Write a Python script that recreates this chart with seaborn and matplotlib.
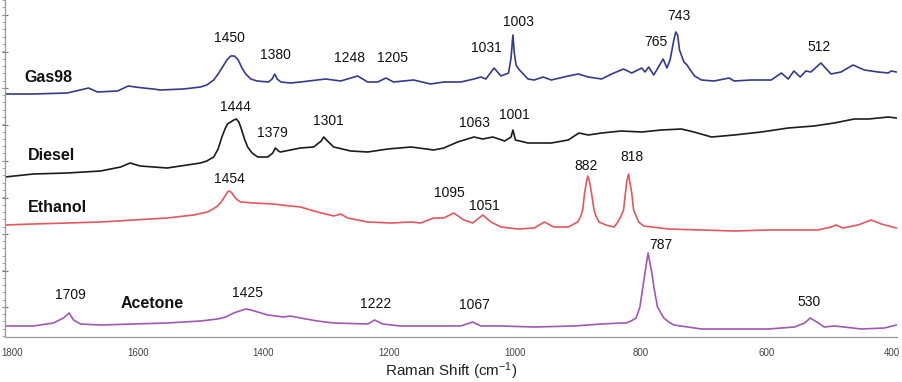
import pandas as pd
import numpy as np
import matplotlib
matplotlib.use("Agg")
import matplotlib.pyplot as plt
from matplotlib.ticker import MultipleLocator, FixedLocator, NullFormatter
import seaborn as sns

# spectra (Raman shift in cm-1, stacked intensity in arbitrary units)
gas98_shift = [1811, 1766, 1712, 1678, 1664, 1632, 1615, 1604, 1591, 1575, 1564, 1527, 1500,
               1490, 1479, 1472, 1465, 1458, 1452, 1446, 1440, 1434, 1428, 1420, 1410, 1392,
               1386, 1382, 1378, 1372, 1357, 1341, 1301,
               1277, 1250, 1234, 1218, 1205, 1193, 1161, 1134, 1113, 1086, 1065, 1054, 1046,
               1033, 1022, 1010, 1006, 1003, 1001, 998, 994, 979, 969, 955, 942, 915, 899, 883,
               862, 846, 827, 814, 798, 793, 787, 779, 764, 758, 753, 747, 744, 741, 738, 731,
               726, 723, 714, 703, 683, 659, 651, 624, 592, 576, 565, 556, 546, 537, 529, 513,
               497, 481, 462, 444, 422, 406, 401, 393]
gas98_int = [243, 243, 244, 249, 245, 246, 251, 250, 249, 248, 247, 248, 250,
             252, 257, 263, 270, 277, 281, 281, 277, 269, 263, 258, 256, 255,
             258, 263, 258, 255, 254, 255, 258,
             256, 261, 255, 255, 259, 255, 257, 253, 255, 255, 258, 260, 258,
             269, 261, 264, 279, 302, 285, 272, 268, 258, 257, 260, 257, 261, 263, 260,
             258, 263, 268, 264, 269, 265, 270, 262, 278, 269, 277, 297, 305, 302, 287, 275,
             272, 269, 261, 257, 256, 259, 256, 257, 257, 264, 258, 266, 260, 266, 265, 274,
             263, 265, 272, 267, 265, 264, 266, 265]

diesel_shift = [1811, 1766, 1712, 1659, 1627, 1612, 1596, 1553, 1500, 1490, 1479, 1472, 1466,
                1461, 1457, 1452, 1447, 1443, 1439, 1435, 1430, 1425, 1418, 1409, 1393, 1385,
                1381, 1376, 1373, 1357, 1341, 1320, 1308, 1304, 1298, 1288, 1261, 1234,
                1202, 1165, 1129, 1113, 1091, 1065, 1051, 1035, 1016, 1006, 1003, 999, 979, 942,
                915, 898, 883, 862, 831, 798, 767, 735, 715, 687, 651, 608, 565, 524, 492, 460,
                437, 406, 393]
diesel_int = [160, 163, 164, 166, 170, 174, 171, 169, 174, 176, 180, 188, 200,
              208, 213, 215, 217, 218, 215, 208, 198, 190, 184, 180, 180, 184,
              189, 186, 185, 187, 189, 190, 196, 200, 196, 190, 186, 185,
              188, 190, 187, 189, 195, 200, 198, 200, 196, 200, 207, 197, 194, 194,
              197, 204, 202, 204, 206, 205, 207, 208, 205, 200, 202, 205, 209, 211, 214, 218,
              218, 220, 219]

ethanol_shift = [1811, 1766, 1712, 1659, 1607, 1553, 1511, 1489, 1480, 1473, 1467, 1462, 1457,
                 1454, 1450, 1446, 1441, 1436, 1416, 1384, 1357, 1341, 1314, 1288, 1277, 1266,
                 1234, 1197, 1165, 1150, 1129, 1113, 1097, 1081, 1067, 1051, 1038, 1022, 995,
                 969, 953, 938, 915, 900, 895, 892, 889, 886, 884, 881, 878, 874, 871, 866, 855,
                 842, 836, 831, 827, 824, 822, 819, 817, 814, 811, 807, 803, 795, 756, 703, 651,
                 597, 518, 497, 489, 478, 454, 433, 417, 393]
ethanol_int = [112, 113, 114, 115, 117, 119, 122, 125, 128, 131, 135, 140, 145,
               146, 144, 140, 137, 135, 134, 133, 131, 130, 125, 121, 123, 119,
               115, 114, 115, 114, 119, 119, 124, 117, 114, 122, 115, 110, 108,
               109, 115, 110, 110, 115, 121, 127, 144, 155, 161, 155, 144, 127, 121, 115, 112,
               110, 115, 121, 127, 144, 155, 163, 155, 144, 127, 121, 115, 111, 108, 107, 106,
               107, 107, 110, 112, 109, 112, 117, 113, 109]

acetone_shift = [1811, 1766, 1734, 1718, 1709, 1702, 1691, 1659, 1607, 1553, 1500, 1473, 1460,
                 1447, 1438, 1428, 1420, 1409, 1393, 1368, 1357, 1341, 1314, 1288, 1234, 1223,
                 1210, 1182, 1129, 1086, 1067, 1054, 1022, 969, 906, 862, 831, 823, 815, 807,
                 801, 797, 793, 788, 782, 778, 773, 763, 755, 747, 703, 651, 597, 555, 539, 530,
                 517, 508, 492, 476, 449, 412, 393]
acetone_int = [11, 11, 14, 19, 24, 17, 13, 12, 13, 14, 16, 18, 20,
               24, 26, 28, 27, 25, 22, 20, 21, 19, 16, 14, 13, 17,
               13, 11, 11, 11, 15, 11, 11, 10, 11, 13, 14, 14, 16, 19,
               30, 47, 64, 84, 64, 47, 30, 19, 15, 12, 8, 8, 8, 10, 14, 19,
               14, 10, 11, 10, 8, 9, 12]

samples = ["Gas98", "Diesel", "Ethanol", "Acetone"]
colors = ["#353a8c", "#1c1c1c", "#e2585c", "#a158b4"]

# sample names and peak labels: (text, shift, height)
name_pos = [("Gas98", 1780, 260), ("Diesel", 1774, 182), ("Ethanol", 1774, 129), ("Acetone", 1627, 34)]
peak_labels = [("1450", 1454, 299), ("1380", 1381, 282), ("1248", 1263, 279), ("1205", 1194, 279),
               ("1031", 1046, 289), ("1003", 995, 315), ("765", 776, 295), ("743", 739, 321),
               ("512", 516, 290),
               ("1444", 1444, 230), ("1379", 1385, 204), ("1301", 1296, 216), ("1063", 1065, 214),
               ("1001", 1000, 222),
               ("1454", 1454, 158), ("1095", 1104, 144), ("1051", 1048, 131), ("882", 886, 171),
               ("818", 813, 180),
               ("1709", 1707, 42), ("1425", 1425, 44), ("1222", 1221, 33), ("1067", 1065, 32),
               ("787", 767, 92), ("530", 532, 35)]

frames = []
for name, xs, ys in [("Gas98", gas98_shift, gas98_int), ("Diesel", diesel_shift, diesel_int),
                     ("Ethanol", ethanol_shift, ethanol_int), ("Acetone", acetone_shift, acetone_int)]:
    frames.append(pd.DataFrame({"shift": xs, "intensity": ys, "sample": name}))
df = pd.concat(frames, ignore_index=True)

sns.set_style("white")
plt.rcParams["font.family"] = ["Liberation Sans", "DejaVu Sans"]
plt.rcParams["mathtext.fontset"] = "custom"
plt.rcParams["mathtext.rm"] = "Liberation Sans"
plt.rcParams["mathtext.it"] = "Liberation Sans"

fig = plt.figure(figsize=(9.02, 3.82), dpi=100)
ax = fig.add_axes([5 / 902, 45 / 382, 892 / 902, 337 / 382])

sns.lineplot(data=df, x="shift", y="intensity", hue="sample", hue_order=samples,
             palette=colors, estimator=None, sort=True, legend=False, linewidth=1.2, ax=ax)

for text, x, y in name_pos:
    ax.text(x, y, text, fontsize=11.5, fontweight="bold", color="#111", ha="left", va="center")
for text, x, y in peak_labels:
    ax.text(x, y, text, fontsize=10, color="#111", ha="center", va="center")

ax.set_xlim(1811, 392)
ax.set_ylim(0, 337)

ax.xaxis.set_major_locator(MultipleLocator(200))
ax.xaxis.set_minor_locator(MultipleLocator(50))
ax.yaxis.set_major_locator(FixedLocator(np.arange(30, 337, 36.5)))
ax.yaxis.set_minor_locator(FixedLocator(np.arange(1, 337, 7.3)))
ax.yaxis.set_major_formatter(NullFormatter())

ax.tick_params(axis="x", which="major", direction="inout", length=4, width=0.8,
               color="#666", labelsize=7, labelcolor="#444", pad=6)
ax.tick_params(axis="x", which="minor", direction="inout", length=3, width=0.8, color="#666")
ax.tick_params(axis="y", which="major", direction="inout", length=4, width=0.8, color="#777", left=True)
ax.tick_params(axis="y", which="minor", direction="out", length=2, width=0.6, color="#999", left=True)

for side in ["top", "right"]:
    ax.spines[side].set_visible(False)
for side in ["left", "bottom"]:
    ax.spines[side].set_color("#999")
    ax.spines[side].set_linewidth(0.9)

ax.set_xlabel(r"Raman Shift (cm$^{-1}$)", fontsize=11, color="#222", labelpad=2)
ax.set_ylabel("")

fig.savefig("out.png", dpi=100)
